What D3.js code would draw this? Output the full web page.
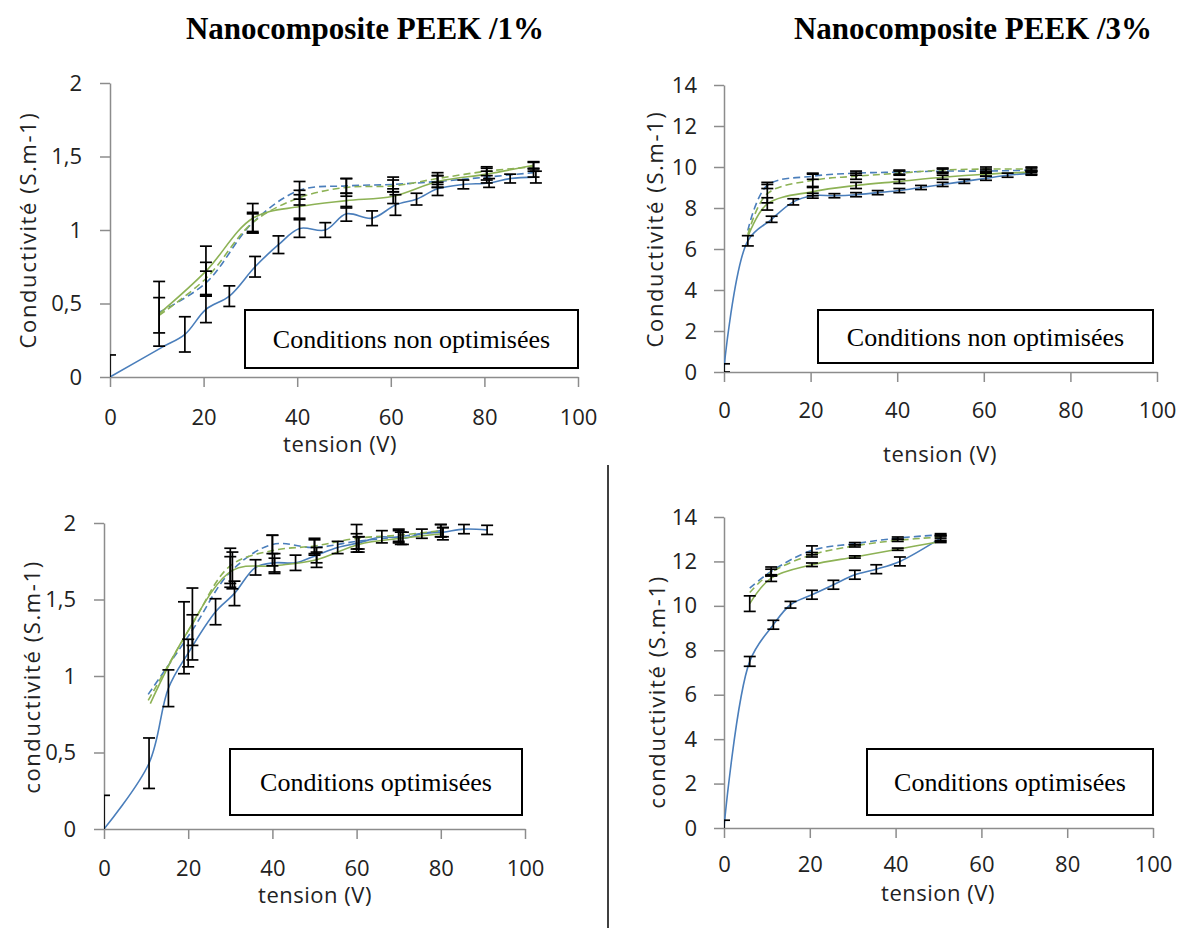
<!DOCTYPE html>
<html><head><meta charset="utf-8">
<script src="https://cdn.jsdelivr.net/npm/d3@7"></script>
<style>body{margin:0;background:#fff}svg{display:block}</style>
</head><body>
<script>
// ---------- DATA ----------
const xTicks = [0, 20, 40, 60, 80, 100];
const yTicks1 = [0, 0.5, 1, 1.5, 2];
const yTicks3 = [0, 2, 4, 6, 8, 10, 12, 14];
const titles = ["Nanocomposite PEEK /1%", "Nanocomposite PEEK /3%"];
const boxTexts = ["Conditions non optimisées", "Conditions optimisées"];
const yLabels = ["Conductivité (S.m-1)", "conductivité (S.m-1)"];
const xLabel = "tension (V)";

// Panel 1 : PEEK 1%, non optimisées
const p1BlueSolidX = [0, 11, 16, 20.5, 25.5, 31, 36, 40.5, 46, 50.5, 56, 61, 65.5, 70, 75.5, 81, 85.5, 91];
const p1BlueSolid = [0, 0.2, 0.29, 0.46, 0.55, 0.75, 0.9, 1.01, 1.0, 1.11, 1.08, 1.17, 1.21, 1.28, 1.31, 1.32, 1.35, 1.36];
const p1BlueSolidErr = [0.15, 0, 0.12, 0.09, 0.07, 0.07, 0.06, 0.06, 0.05, 0.05, 0.05, 0.07, 0.04, 0.045, 0.03, 0.03, 0.03, 0.04];
const p1OtherX = [10.5, 20.5, 30.5, 40.5, 50.5, 60.5, 70, 80.5, 90.5];
const p1GreenSolid = [0.43, 0.72, 1.08, 1.16, 1.2, 1.23, 1.33, 1.38, 1.44];
const p1GreenSolidErr = [0.22, 0.17, 0.1, 0.08, 0.05, 0.05, 0.04, 0.04, 0.025];
const p1GreenDash = [0.42, 0.67, 1.05, 1.22, 1.29, 1.3, 1.35, 1.4, 1.43];
const p1GreenDashErr = [0.12, 0.11, 0.07, 0.05, 0.06, 0.04, 0.04, 0.03, 0.03];
const p1BlueDash = [0.44, 0.64, 1.05, 1.27, 1.3, 1.31, 1.33, 1.36, 1.39];
const p1BlueDashErr = [0, 0.08, 0.06, 0.06, 0.05, 0.05, 0.04, 0.04, 0.03];

// Panel 2 : PEEK 3%, non optimisées
const p2BlueSolidX = [0, 5.5, 11, 16, 20.5, 25.5, 30.5, 35.5, 40.5, 45.5, 50.5, 55.5, 60.5, 65.5, 71];
const p2BlueSolid = [0.2, 6.4, 7.45, 8.3, 8.6, 8.6, 8.65, 8.75, 8.85, 9.0, 9.15, 9.3, 9.45, 9.6, 9.7];
const p2BlueSolidErr = [0.2, 0.25, 0.15, 0.15, 0.12, 0.1, 0.1, 0.1, 0.1, 0.1, 0.1, 0.1, 0.1, 0.1, 0.1];
const p2OtherX = [5.5, 10, 20.5, 30.5, 40.5, 50.5, 60.5, 71];
const p2GreenSolid = [6.6, 8.2, 8.8, 9.1, 9.3, 9.5, 9.65, 9.75];
const p2GreenSolidErr = [0, 0.3, 0.2, 0.15, 0.1, 0.1, 0.1, 0.1];
const p2GreenDash = [6.7, 8.7, 9.35, 9.55, 9.7, 9.85, 9.9, 9.9];
const p2GreenDashErr = [0, 0.45, 0.3, 0.15, 0.1, 0.1, 0.1, 0.1];
const p2BlueDash = [6.9, 9.1, 9.55, 9.7, 9.75, 9.8, 9.8, 9.85];
const p2BlueDashErr = [0, 0.15, 0.15, 0.1, 0.1, 0.1, 0.1, 0.1];

// Panel 3 : PEEK 1%, optimisées
const p3BlueSolidX = [0, 10.7, 15.3, 20, 26.5, 31, 36, 40.5, 45.5, 50.5, 55.5, 60.5, 66, 71, 75.5, 80.5, 85.5, 91];
const p3BlueSolid = [0, 0.43, 0.92, 1.15, 1.42, 1.54, 1.71, 1.74, 1.74, 1.79, 1.84, 1.87, 1.91, 1.9, 1.93, 1.94, 1.96, 1.955];
const p3BlueSolidErr = [0.22, 0.165, 0.12, 0.09, 0.085, 0.08, 0.05, 0.06, 0.05, 0.05, 0.04, 0.04, 0.04, 0.04, 0.03, 0.03, 0.03, 0.03];
const p3GreenSolidX = [11, 19, 30.5, 40.5, 50.5, 60.5, 70.5, 80.5];
const p3GreenSolid = [0.82, 1.25, 1.69, 1.72, 1.76, 1.86, 1.9, 1.93];
const p3GreenSolidErr = [0, 0.235, 0.12, 0.05, 0.05, 0.05, 0.04, 0.04];
const p3DashX = [10.5, 21, 30, 40, 50, 60, 70, 80];
const p3GreenDash = [0.84, 1.34, 1.72, 1.82, 1.85, 1.9, 1.92, 1.95];
const p3GreenDashErr = [0, 0.235, 0.115, 0.1, 0.05, 0.09, 0.04, 0.04];
const p3BlueDash = [0.88, 1.3, 1.68, 1.86, 1.84, 1.88, 1.91, 1.95];
const p3BlueDashErr = [0, 0.1, 0.1, 0.06, 0.05, 0.05, 0.04, 0.04];

// Panel 4 : PEEK 3%, optimisées
const p4BlueSolidX = [0, 6, 11.5, 15.5, 20.5, 25.5, 30.5, 35.5, 41, 50.5];
const p4BlueSolid = [0.05, 7.5, 9.15, 10.05, 10.5, 10.95, 11.4, 11.65, 12.0, 13.05];
const p4BlueSolidErr = [0.3, 0.22, 0.2, 0.15, 0.2, 0.2, 0.2, 0.2, 0.2, 0.15];
const p4OtherX = [6, 11, 20.5, 30.5, 40.5, 50.5];
const p4GreenSolid = [10.1, 11.25, 11.85, 12.2, 12.55, 12.9];
const p4GreenSolidErr = [0.35, 0.15, 0.08, 0.05, 0.05, 0.05];
const p4GreenDash = [10.6, 11.5, 12.3, 12.7, 12.95, 13.1];
const p4GreenDashErr = [0, 0.15, 0.1, 0.05, 0.05, 0.05];
const p4BlueDash = [10.8, 11.55, 12.5, 12.8, 13.05, 13.2];
const p4BlueDashErr = [0, 0.2, 0.2, 0.05, 0.05, 0.05];

// ---------- STYLE ----------
const BLUE = "#4a7ebb", GREEN = "#8db255";
const tickFont = "'Open Sans', sans-serif";
const serif = "'Liberation Serif', 'Times New Roman', serif";

const svg = d3.select("body").append("svg").attr("width", 1179).attr("height", 928);

function mk(x, y, err) { return x.map((v, i) => ({x: v, y: y[i], e: err[i]})); }

const panels = [
  {x0:110, x1:578, yTop:83, yBot:377, yMax:2, yt:yTicks1, yPad:18, xPad:22,
   yLabel:yLabels[0], yLx:28, yLy:230, xLx:340, xLy:452,
   box:[245,310,333,58], boxText:boxTexts[0],
   series:[
     {d:mk(p1BlueSolidX,p1BlueSolid,p1BlueSolidErr), c:BLUE, dash:null},
     {d:mk(p1OtherX,p1BlueDash,p1BlueDashErr), c:BLUE, dash:"7,4"},
     {d:mk(p1OtherX,p1GreenSolid,p1GreenSolidErr), c:GREEN, dash:null},
     {d:mk(p1OtherX,p1GreenDash,p1GreenDashErr), c:GREEN, dash:"7,4"}]},
  {x0:724, x1:1157, yTop:85, yBot:372, yMax:14, yt:yTicks3, yPad:17, xPad:20,
   yLabel:yLabels[0], yLx:655, yLy:229, xLx:940, xLy:462,
   box:[818,310,335,53], boxText:boxTexts[0],
   series:[
     {d:mk(p2BlueSolidX,p2BlueSolid,p2BlueSolidErr), c:BLUE, dash:null},
     {d:mk(p2OtherX,p2BlueDash,p2BlueDashErr), c:BLUE, dash:"7,4"},
     {d:mk(p2OtherX,p2GreenSolid,p2GreenSolidErr), c:GREEN, dash:null},
     {d:mk(p2OtherX,p2GreenDash,p2GreenDashErr), c:GREEN, dash:"7,4"}]},
  {x0:104, x1:525, yTop:523, yBot:829, yMax:2, yt:yTicks1, yPad:18, xPad:21,
   yLabel:yLabels[1], yLx:32, yLy:677, xLx:315, xLy:903,
   box:[230,749,292,66], boxText:boxTexts[1],
   series:[
     {d:mk(p3BlueSolidX,p3BlueSolid,p3BlueSolidErr), c:BLUE, dash:null},
     {d:mk(p3DashX,p3BlueDash,p3BlueDashErr), c:BLUE, dash:"7,4"},
     {d:mk(p3GreenSolidX,p3GreenSolid,p3GreenSolidErr), c:GREEN, dash:null},
     {d:mk(p3DashX,p3GreenDash,p3GreenDashErr), c:GREEN, dash:"7,4"}]},
  {x0:724, x1:1153, yTop:517, yBot:828, yMax:14, yt:yTicks3, yPad:17, xPad:18,
   yLabel:yLabels[1], yLx:657, yLy:692, xLx:938, xLy:901,
   box:[867,749,286,66], boxText:boxTexts[1],
   series:[
     {d:mk(p4BlueSolidX,p4BlueSolid,p4BlueSolidErr), c:BLUE, dash:null},
     {d:mk(p4OtherX,p4BlueDash,p4BlueDashErr), c:BLUE, dash:"7,4"},
     {d:mk(p4OtherX,p4GreenSolid,p4GreenSolidErr), c:GREEN, dash:null},
     {d:mk(p4OtherX,p4GreenDash,p4GreenDashErr), c:GREEN, dash:"7,4"}]}
];

// titles
svg.append("text").attr("x", 365).attr("y", 39).attr("text-anchor","middle")
  .style("font-family", serif).style("font-weight","bold").style("font-size","31px").text(titles[0]);
svg.append("text").attr("x", 973).attr("y", 39).attr("text-anchor","middle")
  .style("font-family", serif).style("font-weight","bold").style("font-size","31px").text(titles[1]);

// divider
svg.append("line").attr("x1",608).attr("x2",608).attr("y1",465).attr("y2",928)
  .attr("stroke","#000").attr("stroke-width",1.5);

panels.forEach((p, pi) => {
  const g = svg.append("g");
  const x = d3.scaleLinear().domain([0,100]).range([p.x0, p.x1]);
  const y = d3.scaleLinear().domain([0,p.yMax]).range([p.yBot, p.yTop]);
  const fmt = v => String(v).replace(".", ",");

  const ax = g.append("g").attr("transform", `translate(0,${p.yBot})`)
    .call(d3.axisBottom(x).tickValues(xTicks).tickSize(10).tickSizeOuter(0).tickPadding(p.xPad).tickFormat(fmt));
  const ay = g.append("g").attr("transform", `translate(${p.x0},0)`)
    .call(d3.axisLeft(y).tickValues(p.yt).tickSize(10).tickSizeOuter(0).tickPadding(p.yPad).tickFormat(fmt));
  [ax, ay].forEach(a => {
    a.selectAll("path,line").attr("stroke","#8c8c8c").attr("stroke-width",1.5);
    a.selectAll("text").style("font-family", tickFont).style("font-size","22px").attr("fill","#222");
  });

  const clipId = "clip" + pi;
  svg.append("clipPath").attr("id", clipId).append("rect")
    .attr("x", p.x0).attr("y", p.yTop - 20).attr("width", p.x1 - p.x0 + 20).attr("height", p.yBot - p.yTop + 20);
  const plot = g.append("g").attr("clip-path", `url(#${clipId})`);

  const line = d3.line().x(d => x(d.x)).y(d => y(d.y)).curve(d3.curveCatmullRom.alpha(0.5));
  p.series.forEach(s => {
    plot.append("path").datum(s.d).attr("d", line).attr("fill","none")
      .attr("stroke", s.c).attr("stroke-width", 1.6)
      .attr("stroke-dasharray", s.dash);
  });
  p.series.forEach(s => {
    const eb = plot.append("g").attr("stroke","#000").attr("stroke-width",1.7);
    s.d.filter(d => d.e > 0).forEach(d => {
      const xx = x(d.x), ya = y(d.y + d.e), yb = y(d.y - d.e);
      eb.append("line").attr("x1",xx).attr("x2",xx).attr("y1",ya).attr("y2",yb);
      eb.append("line").attr("x1",xx-6).attr("x2",xx+6).attr("y1",ya).attr("y2",ya);
      eb.append("line").attr("x1",xx-6).attr("x2",xx+6).attr("y1",yb).attr("y2",yb);
    });
  });

  // axis titles
  g.append("text").attr("transform", `translate(${p.yLx},${p.yLy}) rotate(-90)`)
    .attr("text-anchor","middle").attr("dy","0.35em")
    .style("font-family", tickFont).style("font-size","22px").style("letter-spacing","1.6px")
    .attr("fill","#222").text(p.yLabel);
  g.append("text").attr("x", p.xLx).attr("y", p.xLy).attr("text-anchor","middle")
    .style("font-family", tickFont).style("font-size","22px").style("letter-spacing","0.5px")
    .attr("fill","#222").text(xLabel);

  // annotation box
  const [bx, by, bw, bh] = p.box;
  g.append("rect").attr("x",bx).attr("y",by).attr("width",bw).attr("height",bh)
    .attr("fill","#fff").attr("stroke","#000").attr("stroke-width",2);
  g.append("text").attr("x", bx + bw/2).attr("y", by + bh/2).attr("dy","0.35em")
    .attr("text-anchor","middle").style("font-family", serif).style("font-size","26px")
    .text(p.boxText);
});
</script>
</body></html>
